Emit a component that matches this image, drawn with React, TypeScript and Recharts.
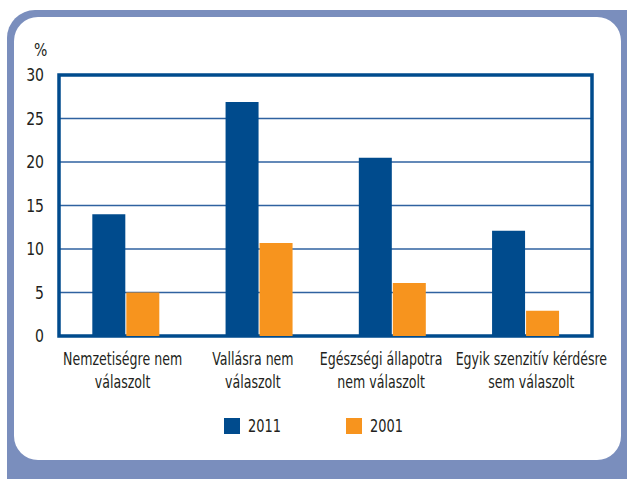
import React from 'react'
import { Bar, BarChart, CartesianGrid, ReferenceArea, XAxis, YAxis } from 'recharts'

const categories = [
  'Nemzetiségre nem\nválaszolt',
  'Vallásra nem\nválaszolt',
  'Egészségi állapotra\nnem válaszolt',
  'Egyik szenzitív kérdésre\nsem válaszolt',
]
const values2011 = [14.0, 26.9, 20.5, 12.1]
const values2001 = [5.0, 10.7, 6.1, 2.9]
const yTicks = [0, 5, 10, 15, 20, 25, 30]
const seriesNames = ['2011', '2001']

const data = categories.map((name, i) => ({
  name,
  y2011: values2011[i],
  y2001: values2001[i],
}))

const FONT = "'DejaVu Sans', sans-serif"
const TEXT = '#231f20'
const BLUE = '#004b8d'
const ORANGE = '#f7941e'
const FRAME = '#7a8ebd'
// no condensed face installed, so narrow the glyphs by hand
const SQUEEZE = 0.78
const SQUEEZE_CAT = 0.7
// the labels in the original are not exactly centred under their groups
const labelNudge = [-3, -6, -11, 6]

// two-line category labels under the plot
const CategoryTick = ({ x, y, payload }: any) => {
  const lines = String(payload.value).split('\n')
  const dx = labelNudge[payload.index] ?? 0
  return (
    <g transform={`translate(${x + dx},${y}) scale(${SQUEEZE_CAT},1)`}>
      <text x={0} y={0} textAnchor="middle" fill={TEXT} fontSize={18} fontFamily={FONT}>
        {lines.map((l, i) => (
          <tspan key={i} x={0} dy={i === 0 ? 21 : 23}>
            {l}
          </tspan>
        ))}
      </text>
    </g>
  )
}

const ValueTick = ({ x, y, payload }: any) => (
  <g transform={`translate(${x},${y}) scale(${SQUEEZE},1)`}>
    <text x={0} y={0} dy={6} textAnchor="end" fill={TEXT} fontSize={18} fontFamily={FONT}>
      {payload.value}
    </text>
  </g>
)

const squeezed: React.CSSProperties = {
  position: 'absolute',
  fontFamily: FONT,
  fontSize: 18,
  color: TEXT,
  transform: `scaleX(${SQUEEZE})`,
  transformOrigin: 'left top',
  lineHeight: '20px',
}

const App = () => {
  return (
    <div style={{ position: 'absolute', left: 0, top: 0, width: 627, height: 479, background: '#fff', overflow: 'hidden' }}>
      {/* rounded frame */}
      <div style={{ position: 'absolute', left: 7, top: 10, width: 650, height: 500, background: FRAME, borderRadius: 28 }} />
      <div style={{ position: 'absolute', left: 14, top: 17, width: 607, height: 443, background: '#fff', borderRadius: 24 }} />

      <div style={{ ...squeezed, left: 34, top: 40 }}>%</div>

      <div style={{ position: 'absolute', left: 0, top: 0 }}>
        <BarChart
          width={627}
          height={479}
          data={data}
          margin={{ top: 75, right: 35, left: 0, bottom: 0 }}
          barCategoryGap="25%"
          barGap={1}
        >
          <CartesianGrid vertical={false} stroke="#2f62a0" strokeWidth={1.5} />
          <XAxis
            dataKey="name"
            height={143}
            axisLine={false}
            tickLine={false}
            tick={<CategoryTick />}
            interval={0}
          />
          <YAxis
            width={59}
            domain={[0, 30]}
            ticks={yTicks}
            axisLine={false}
            tickLine={false}
            tickMargin={9}
            tick={<ValueTick />}
          />
          <Bar dataKey="y2011" name={seriesNames[0]} fill={BLUE} isAnimationActive={false} />
          <Bar dataKey="y2001" name={seriesNames[1]} fill={ORANGE} isAnimationActive={false} />
          <ReferenceArea y1={0} y2={30} fill="none" stroke={BLUE} strokeWidth={3.5} ifOverflow="visible" />
        </BarChart>
      </div>

      {/* legend */}
      <span style={{ position: 'absolute', left: 224, top: 418, width: 16, height: 16, background: BLUE }} />
      <div style={{ ...squeezed, left: 248, top: 416, transform: 'scaleX(0.72)' }}>{seriesNames[0]}</div>
      <span style={{ position: 'absolute', left: 346, top: 418, width: 16, height: 16, background: ORANGE }} />
      <div style={{ ...squeezed, left: 370, top: 416, transform: 'scaleX(0.72)' }}>{seriesNames[1]}</div>
    </div>
  )
}

export default App
